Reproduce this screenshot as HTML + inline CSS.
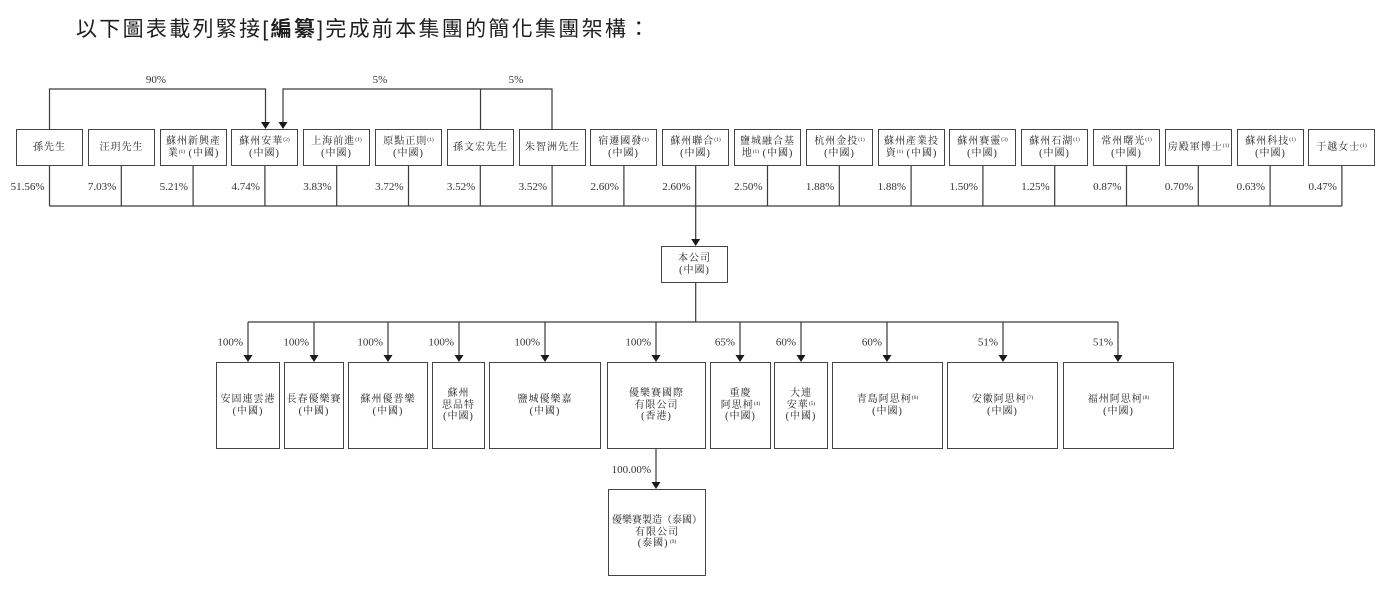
<!DOCTYPE html>
<html>
<head>
<meta charset="utf-8">
<style>
  html, body { margin:0; padding:0; background:#fff; }
  body { width:1391px; height:590px; position:relative; overflow:hidden; }
  .title { position:absolute; left:76px; top:19px; font-size:21px; line-height:22px; letter-spacing:2.3px; color:#1e1e1e; white-space:nowrap;
    font-family:"Liberation Sans","Noto Sans CJK TC",sans-serif; }
  .title b { font-weight:bold; }
  .bx { position:absolute; box-sizing:border-box; border:1px solid #444; background:#fff; display:flex; align-items:center; justify-content:center; text-align:center;
    font-family:"Liberation Serif","Noto Serif CJK SC",serif; font-size:10px; line-height:11.5px; letter-spacing:1px; color:#222; white-space:nowrap; }
  .bx > div { text-align:center; }
  .s { font-size:5.5px; letter-spacing:0; vertical-align:3px; line-height:0; }
  svg { position:absolute; left:0; top:0; }
  svg text { font-family:"Liberation Serif",serif; font-size:11px; fill:#333; }
</style>
</head>
<body>
<div class="title">以下圖表載列緊接[<b>編纂</b>]完成前本集團的簡化集團架構：</div>

<svg width="1391" height="590" viewBox="0 0 1391 590">
  <g stroke="#3a3a3a" stroke-width="1.2" fill="none">
    <path d="M49.5 129 V89 H265.5 V122"/>
    <path d="M552 129 V89 H283 V122"/>
    <path d="M480.5 129 V89"/>
    <path d="M49.5 166V206 M121.3 166V206 M193.1 166V206 M264.9 166V206 M336.7 166V206 M408.5 166V206 M480.3 166V206 M552.1 166V206 M623.9 166V206 M695.7 166V206 M767.5 166V206 M839.3 166V206 M911.1 166V206 M982.9 166V206 M1054.7 166V206 M1126.5 166V206 M1198.3 166V206 M1270.1 166V206 M1341.9 166V206"/>
    <path d="M49.5 206 H1341.9"/>
    <path d="M695.7 206 V239"/>
    <path d="M695.7 282 V322"/>
    <path d="M248 322 H1118"/>
    <path d="M248 322V355 M314 322V355 M388 322V355 M459 322V355 M545 322V355 M656 322V355 M740 322V355 M801 322V355 M887 322V355 M1003 322V355 M1118 322V355"/>
    <path d="M656 448 V482"/>
  </g>
  <g fill="#1a1a1a">
    <polygon points="261,122 270,122 265.5,129"/>
    <polygon points="278.5,122 287.5,122 283,129"/>
    <polygon points="691.2,239 700.2,239 695.7,246"/>
    <polygon points="243.5,355 252.5,355 248,362"/>
    <polygon points="309.5,355 318.5,355 314,362"/>
    <polygon points="383.5,355 392.5,355 388,362"/>
    <polygon points="454.5,355 463.5,355 459,362"/>
    <polygon points="540.5,355 549.5,355 545,362"/>
    <polygon points="651.5,355 660.5,355 656,362"/>
    <polygon points="735.5,355 744.5,355 740,362"/>
    <polygon points="796.5,355 805.5,355 801,362"/>
    <polygon points="882.5,355 891.5,355 887,362"/>
    <polygon points="998.5,355 1007.5,355 1003,362"/>
    <polygon points="1113.5,355 1122.5,355 1118,362"/>
    <polygon points="651.5,482 660.5,482 656,489"/>
  </g>
  <text x="156" y="83" text-anchor="middle">90%</text>
  <text x="380" y="83" text-anchor="middle">5%</text>
  <text x="516" y="83" text-anchor="middle">5%</text>
  <g text-anchor="end">
    <text x="44.5" y="190">51.56%</text>
    <text x="116.3" y="190">7.03%</text>
    <text x="188.1" y="190">5.21%</text>
    <text x="259.9" y="190">4.74%</text>
    <text x="331.7" y="190">3.83%</text>
    <text x="403.5" y="190">3.72%</text>
    <text x="475.3" y="190">3.52%</text>
    <text x="547.1" y="190">3.52%</text>
    <text x="618.9" y="190">2.60%</text>
    <text x="690.7" y="190">2.60%</text>
    <text x="762.5" y="190">2.50%</text>
    <text x="834.3" y="190">1.88%</text>
    <text x="906.1" y="190">1.88%</text>
    <text x="977.9" y="190">1.50%</text>
    <text x="1049.7" y="190">1.25%</text>
    <text x="1121.5" y="190">0.87%</text>
    <text x="1193.3" y="190">0.70%</text>
    <text x="1265.1" y="190">0.63%</text>
    <text x="1336.9" y="190">0.47%</text>
  </g>
  <g text-anchor="end">
    <text x="243" y="345.5">100%</text>
    <text x="309" y="345.5">100%</text>
    <text x="383" y="345.5">100%</text>
    <text x="454" y="345.5">100%</text>
    <text x="540" y="345.5">100%</text>
    <text x="651" y="345.5">100%</text>
    <text x="735" y="345.5">65%</text>
    <text x="796" y="345.5">60%</text>
    <text x="882" y="345.5">60%</text>
    <text x="998" y="345.5">51%</text>
    <text x="1113" y="345.5">51%</text>
    <text x="651" y="473">100.00%</text>
  </g>
</svg>

<div class="bx" style="left:16px;top:129px;width:67px;height:37px;"><div>孫先生</div></div>
<div class="bx" style="left:88px;top:129px;width:67px;height:37px;"><div>汪玥先生</div></div>
<div class="bx" style="left:160px;top:129px;width:67px;height:37px;"><div>蘇州新興產<br>業<span class="s">(1)</span> (中國)</div></div>
<div class="bx" style="left:231px;top:129px;width:67px;height:37px;"><div>蘇州安華<span class="s">(2)</span><br>(中國)</div></div>
<div class="bx" style="left:303px;top:129px;width:67px;height:37px;"><div>上海前進<span class="s">(1)</span><br>(中國)</div></div>
<div class="bx" style="left:375px;top:129px;width:67px;height:37px;"><div>原點正則<span class="s">(1)</span><br>(中國)</div></div>
<div class="bx" style="left:447px;top:129px;width:67px;height:37px;"><div>孫文宏先生</div></div>
<div class="bx" style="left:519px;top:129px;width:67px;height:37px;"><div>朱智洲先生</div></div>
<div class="bx" style="left:590px;top:129px;width:67px;height:37px;"><div>宿遷國發<span class="s">(1)</span><br>(中國)</div></div>
<div class="bx" style="left:662px;top:129px;width:67px;height:37px;"><div>蘇州聯合<span class="s">(1)</span><br>(中國)</div></div>
<div class="bx" style="left:734px;top:129px;width:67px;height:37px;"><div>鹽城融合基<br>地<span class="s">(1)</span> (中國)</div></div>
<div class="bx" style="left:806px;top:129px;width:67px;height:37px;"><div>杭州金投<span class="s">(1)</span><br>(中國)</div></div>
<div class="bx" style="left:878px;top:129px;width:67px;height:37px;"><div>蘇州產業投<br>資<span class="s">(1)</span> (中國)</div></div>
<div class="bx" style="left:949px;top:129px;width:67px;height:37px;"><div>蘇州賽靈<span class="s">(3)</span><br>(中國)</div></div>
<div class="bx" style="left:1021px;top:129px;width:67px;height:37px;"><div>蘇州石湖<span class="s">(1)</span><br>(中國)</div></div>
<div class="bx" style="left:1093px;top:129px;width:67px;height:37px;"><div>常州曙光<span class="s">(1)</span><br>(中國)</div></div>
<div class="bx" style="left:1165px;top:129px;width:67px;height:37px;"><div>房殿軍博士<span class="s">(1)</span></div></div>
<div class="bx" style="left:1237px;top:129px;width:67px;height:37px;"><div>蘇州科技<span class="s">(1)</span><br>(中國)</div></div>
<div class="bx" style="left:1308px;top:129px;width:67px;height:37px;"><div>于越女士<span class="s">(1)</span></div></div>

<div class="bx" style="left:661px;top:246px;width:67px;height:37px;"><div>本公司<br>(中國)</div></div>

<div class="bx" style="left:216px;top:362px;width:64px;height:87px;"><div>安固連雲港<br>(中國)</div></div>
<div class="bx" style="left:284px;top:362px;width:60px;height:87px;"><div>長春優樂賽<br>(中國)</div></div>
<div class="bx" style="left:348px;top:362px;width:80px;height:87px;"><div>蘇州優普樂<br>(中國)</div></div>
<div class="bx" style="left:432px;top:362px;width:53px;height:87px;"><div>蘇州<br>思品特<br>(中國)</div></div>
<div class="bx" style="left:489px;top:362px;width:112px;height:87px;"><div>鹽城優樂嘉<br>(中國)</div></div>
<div class="bx" style="left:607px;top:362px;width:99px;height:87px;"><div>優樂賽國際<br>有限公司<br>(香港)</div></div>
<div class="bx" style="left:710px;top:362px;width:61px;height:87px;"><div>重慶<br>阿思柯<span class="s">(4)</span><br>(中國)</div></div>
<div class="bx" style="left:774px;top:362px;width:54px;height:87px;"><div>大連<br>安華<span class="s">(5)</span><br>(中國)</div></div>
<div class="bx" style="left:832px;top:362px;width:111px;height:87px;"><div>青島阿思柯<span class="s">(6)</span><br>(中國)</div></div>
<div class="bx" style="left:947px;top:362px;width:111px;height:87px;"><div>安徽阿思柯<span class="s">(7)</span><br>(中國)</div></div>
<div class="bx" style="left:1063px;top:362px;width:111px;height:87px;"><div>福州阿思柯<span class="s">(8)</span><br>(中國)</div></div>

<div class="bx" style="left:608px;top:489px;width:98px;height:87px;"><div><span style="letter-spacing:0">優樂賽製造（泰國）</span><br>有限公司<br>(泰國)<span class="s"> (9)</span></div></div>
</body>
</html>
